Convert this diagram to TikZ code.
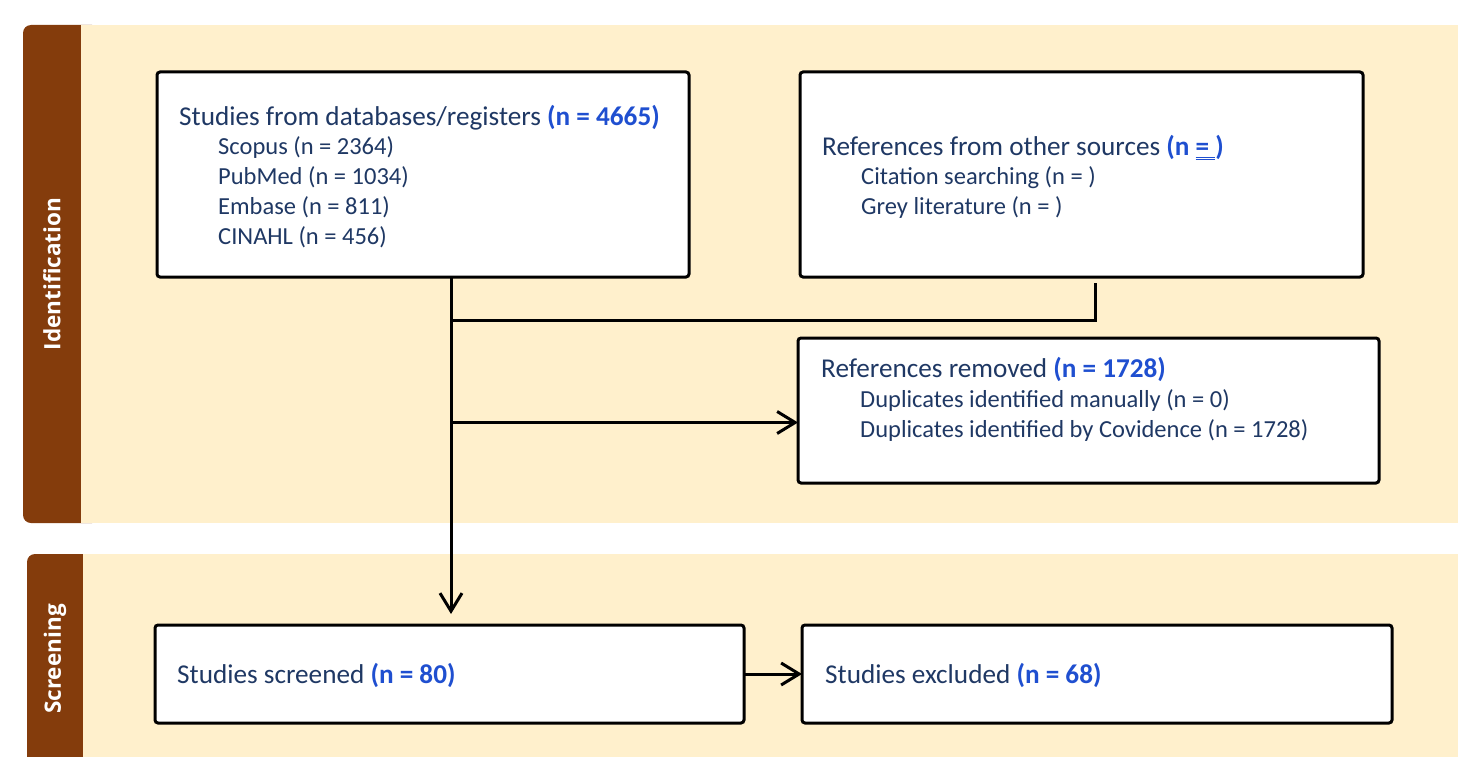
\documentclass[tikz,border=0pt]{standalone}
\usepackage{fontspec}
\setmainfont{Carlito}
\newfontfamily\sidefont{Open Sans}
\usetikzlibrary{arrows.meta}
\definecolor{cream}{RGB}{255,240,204}
\definecolor{brownbar}{RGB}{132,60,12}
\definecolor{txt}{RGB}{31,56,100}
\definecolor{nblue}{RGB}{31,79,208}
\newsavebox\dulbox
\newcommand\dulined[1]{\sbox\dulbox{#1}\rlap{\rule[-2.5pt]{\wd\dulbox}{1pt}}\rlap{\rule[-5pt]{\wd\dulbox}{1pt}}\usebox\dulbox}
\begin{document}
\begin{tikzpicture}[x=1pt,y=-1pt,
  box/.style={draw=black, line width=3pt, fill=white, rounded corners=3pt, inner sep=0pt, outer sep=0pt},
  head/.style={anchor=base west, inner sep=0pt, text=txt, font=\fontsize{27.2}{32}\selectfont},
  sub/.style={anchor=base west, inner sep=0pt, text=txt, font=\fontsize{24.5}{29}\selectfont},
  conn/.style={line width=3pt},
  arr/.style={conn, -{Straight Barb[length=18pt,width=22pt]}},
  side/.style={rotate=90, text=white, font=\sidefont\bfseries\fontsize{22.5}{26}\selectfont, inner sep=0pt}]
\useasboundingbox (0,0) rectangle (1458,757);
\fill[white] (0,0) rectangle (1458,757);
% bands
\fill[brownbar, rounded corners=8pt] (23,25) rectangle (100,523);
\fill[cream] (81,25) rectangle (1458,523);
\fill[brownbar, rounded corners=8pt] (27,554) rectangle (100,770);
\fill[cream] (83,554) rectangle (1458,757);
\node[side] (idlab) at (52,274) {Identification};
\node[side] (sclab) at (55,659) {Screening};
% connectors
\coordinate (trunk) at (451,277);
\coordinate (ob) at (1095,283);
\coordinate (merge) at (451,320);
\coordinate (split) at (451,422.5);
% boxes
\node[box, anchor=north west, minimum width=532pt, minimum height=205pt] (db) at (157,72) {};
\node[box, anchor=north west, minimum width=563pt, minimum height=205pt] (other) at (800,72) {};
\node[box, anchor=north west, minimum width=581pt, minimum height=145pt] (removed) at (798,338) {};
\node[box, anchor=north west, minimum width=589pt, minimum height=98pt] (screened) at (155,625) {};
\node[box, anchor=north west, minimum width=590pt, minimum height=98pt] (excluded) at (802,625) {};
\draw[arr, shorten >=11pt] (trunk) -- (trunk |- screened.north);
\draw[conn] (ob) |- (merge);
\draw[arr] (split) -- (split -| removed.west);
\draw[arr] (screened.east) -- (excluded.west);
% texts
\node[head] (dbh) at (179,125.5) {Studies from databases/registers \textcolor{nblue}{\bfseries (n = 4665)}};
\node[sub] (db1) at (218,154.5) {Scopus (n = 2364)};
\node[sub] (db2) at (218,184.5) {PubMed (n = 1034)};
\node[sub] (db3) at (218,214.5) {Embase (n = 811)};
\node[sub] (db4) at (218,244.5) {CINAHL (n = 456)};
\node[head] (oh) at (822,155) {References from other sources \textcolor{nblue}{\bfseries (n \dulined{=\ })}};
\node[sub] (o1) at (861,184.5) {Citation searching (n = )};
\node[sub] (o2) at (861,214.5) {Grey literature (n = )};
\node[head] (rh) at (821,377) {References removed \textcolor{nblue}{\bfseries (n = 1728)}};
\node[sub] (r1) at (860,407.5) {Duplicates identified manually (n = 0)};
\node[sub] (r2) at (860,437.5) {Duplicates identified by Covidence (n = 1728)};
\node[head] (sh) at (177,683) {Studies screened \textcolor{nblue}{\bfseries (n = 80)}};
\node[head] (eh) at (825,683) {Studies excluded \textcolor{nblue}{\bfseries (n = 68)}};
\end{tikzpicture}
\end{document}
